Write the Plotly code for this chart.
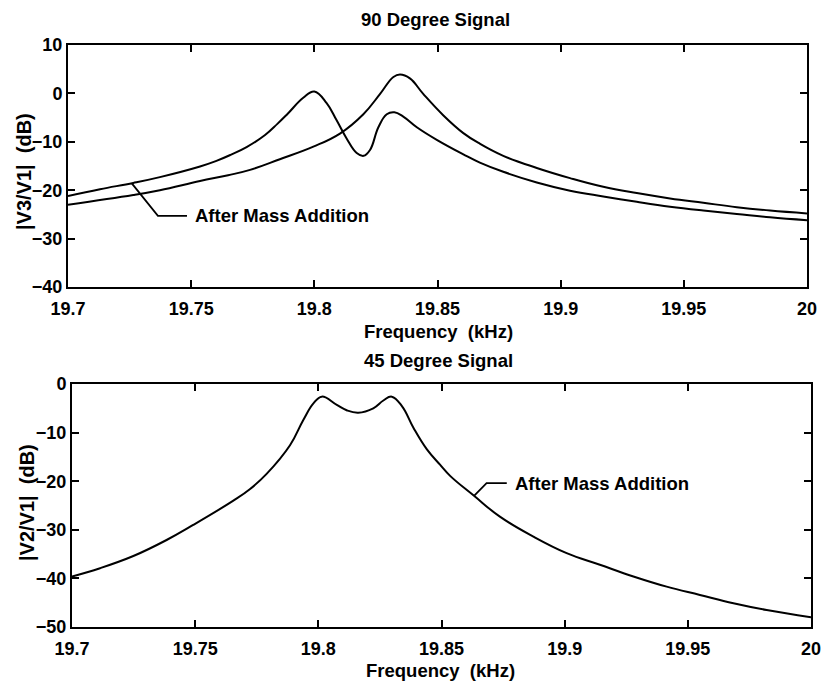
import plotly.graph_objects as go

W, H = 826, 685

# ---------------- data ----------------
# Top panel (90 degree signal): curve with two peaks = "After Mass Addition"
top_after_f = [19.700, 19.713, 19.7265, 19.7373, 19.7536, 19.7600, 19.7660, 19.7725, 19.7800,
               19.7850, 19.7890, 19.7955, 19.8000, 19.8050, 19.8090, 19.8131, 19.8172, 19.8200,
               19.8226, 19.8260, 19.8294, 19.8325, 19.8361, 19.8416, 19.8497, 19.8605,
               19.8672, 19.8767, 19.8903, 19.9038, 19.9173, 19.9309, 19.9444, 19.9579,
               19.9715, 19.9850, 20.000]
top_after_db = [-21.2, -19.8, -18.5, -17.3, -15.1, -14.0, -12.7, -11.1, -8.6,
                -6.3, -4.3, -0.9, 0.4, -2.0, -5.5, -9.3, -12.3, -12.9,
                -11.7, -7.0, -4.3, -3.9, -4.8, -7.0, -9.6, -12.6,
                -14.3, -16.2, -18.4, -20.1, -21.3, -22.4, -23.4, -24.2,
                -24.9, -25.6, -26.2]

# Top panel: single-peak curve (before mass addition)
top_before_f = [19.700, 19.7265, 19.7373, 19.7536, 19.7650, 19.7739, 19.7860, 19.7996, 19.8104,
                19.8199, 19.8267, 19.8321, 19.8348, 19.8388, 19.8442, 19.8523, 19.8605,
                19.8672, 19.8767, 19.8903, 19.9038, 19.9173, 19.9309, 19.9444, 19.9579,
                19.9715, 19.9850, 20.000]
top_before_db = [-23.0, -21.0, -20.0, -18.1, -16.9, -15.8, -13.6, -11.0, -8.3,
                 -4.3, -0.1, 3.4, 3.9, 3.1, -0.1, -4.5, -8.2,
                 -10.4, -12.9, -15.4, -17.5, -19.3, -20.6, -21.7, -22.6,
                 -23.5, -24.2, -24.8]

# Bottom panel (45 degree signal)
bot_f = [19.700, 19.7114, 19.7249, 19.7384, 19.7492, 19.7655, 19.7723, 19.7790, 19.7885,
         19.7939, 19.7980, 19.8014, 19.8075, 19.8115, 19.8162, 19.8223, 19.8264, 19.8298,
         19.8340, 19.8386, 19.8440, 19.8494, 19.8535, 19.8632, 19.8737, 19.8873, 19.9008,
         19.9143, 19.9279, 19.9414, 19.9549, 19.9685, 19.9820, 20.000]
bot_db = [-39.6, -37.9, -35.4, -32.1, -29.0, -24.0, -21.6, -18.5, -12.6,
          -7.4, -4.0, -2.6, -4.3, -5.4, -5.9, -5.0, -3.4, -2.6,
          -4.6, -9.0, -13.4, -16.6, -18.9, -23.0, -27.3, -31.4, -34.8,
          -37.2, -39.6, -41.7, -43.4, -45.1, -46.5, -48.0]

x_ticks = [19.7, 19.75, 19.8, 19.85, 19.9, 19.95, 20.0]
x_tick_text = ["19.7", "19.75", "19.8", "19.85", "19.9", "19.95", "20"]
top_y_ticks = [10, 0, -10, -20, -30, -40]
bot_y_ticks = [0, -10, -20, -30, -40, -50]

# annotation leader lines (data coords)
top_leader_f = [19.7259, 19.7365, 19.7483]
top_leader_db = [-18.6, -25.3, -25.3]
bot_leader_f = [19.8632, 19.8683, 19.8765]
bot_leader_db = [-23.0, -20.4, -20.4]

# ---------------- figure ----------------
FONT = "Liberation Sans, Arial, sans-serif"
fig = go.Figure()

line = dict(color="black", width=2, shape="spline", smoothing=1.2)
fig.add_trace(go.Scatter(x=top_after_f, y=top_after_db, mode="lines", line=line, xaxis="x", yaxis="y"))
fig.add_trace(go.Scatter(x=top_before_f, y=top_before_db, mode="lines", line=line, xaxis="x", yaxis="y"))
fig.add_trace(go.Scatter(x=bot_f, y=bot_db, mode="lines", line=line, xaxis="x2", yaxis="y2"))
fig.add_trace(go.Scatter(x=top_leader_f, y=top_leader_db, mode="lines",
                         line=dict(color="black", width=1.8), xaxis="x", yaxis="y"))
fig.add_trace(go.Scatter(x=bot_leader_f, y=bot_leader_db, mode="lines",
                         line=dict(color="black", width=1.8), xaxis="x2", yaxis="y2"))

tickfont = dict(family=FONT, size=18, color="black", weight="bold")
common_x = dict(range=[19.7, 20.0], tickvals=x_ticks, ticktext=x_tick_text,
                ticks="inside", ticklen=7, tickwidth=1.5, tickcolor="black",
                showline=True, linewidth=2, linecolor="black", mirror="ticks",
                showgrid=False, zeroline=False, tickfont=tickfont, ticklabelstandoff=4,
                automargin=False)
common_y = dict(ticks="inside", ticklen=7, tickwidth=1.5, tickcolor="black",
                showline=True, linewidth=2, linecolor="black", mirror="ticks",
                showgrid=False, zeroline=False, tickfont=tickfont, automargin=False)

fig.update_layout(
    width=W, height=H,
    margin=dict(l=0, r=0, t=0, b=0, pad=0, autoexpand=False),
    paper_bgcolor="white", plot_bgcolor="white",
    showlegend=False,
    xaxis=dict(common_x, domain=[68 / W, 807 / W], anchor="y"),
    yaxis=dict(common_y, range=[-40, 10], tickvals=top_y_ticks, domain=[1 - 287 / H, 1 - 45 / H], anchor="x"),
    xaxis2=dict(common_x, domain=[72 / W, 811 / W], anchor="y2"),
    yaxis2=dict(common_y, range=[-50, 0], tickvals=bot_y_ticks, domain=[1 - 627 / H, 1 - 384 / H], anchor="x2"),
)

tfont = dict(family=FONT, size=18.5, color="black", weight="bold")
def ann(text, px, py, angle=0, size=18.5):
    f = dict(tfont, size=size)
    fig.add_annotation(text=text, x=px / W, y=1 - py / H, xref="paper", yref="paper",
                       showarrow=False, font=f, textangle=angle,
                       xanchor="center", yanchor="middle")

ann("90 Degree Signal", 436, 20)
ann("Frequency  (kHz)", 438, 332)
ann("45 Degree Signal", 438, 360)
ann("Frequency  (kHz)", 440, 670)
ann("|V3/V1|  (dB)", 24, 172, angle=-90, size=20)
ann("|V2/V1|  (dB)", 27, 503, angle=-90, size=20)

afont = dict(family=FONT, size=18.5, color="black", weight="bold")
fig.add_annotation(text="After Mass Addition", x=19.7507, y=-25.3, xref="x", yref="y",
                   showarrow=False, font=afont, xanchor="left", yanchor="middle")
fig.add_annotation(text="After Mass Addition", x=19.8791, y=-20.5, xref="x2", yref="y2",
                   showarrow=False, font=afont, xanchor="left", yanchor="middle")

fig.write_html("out.html")
